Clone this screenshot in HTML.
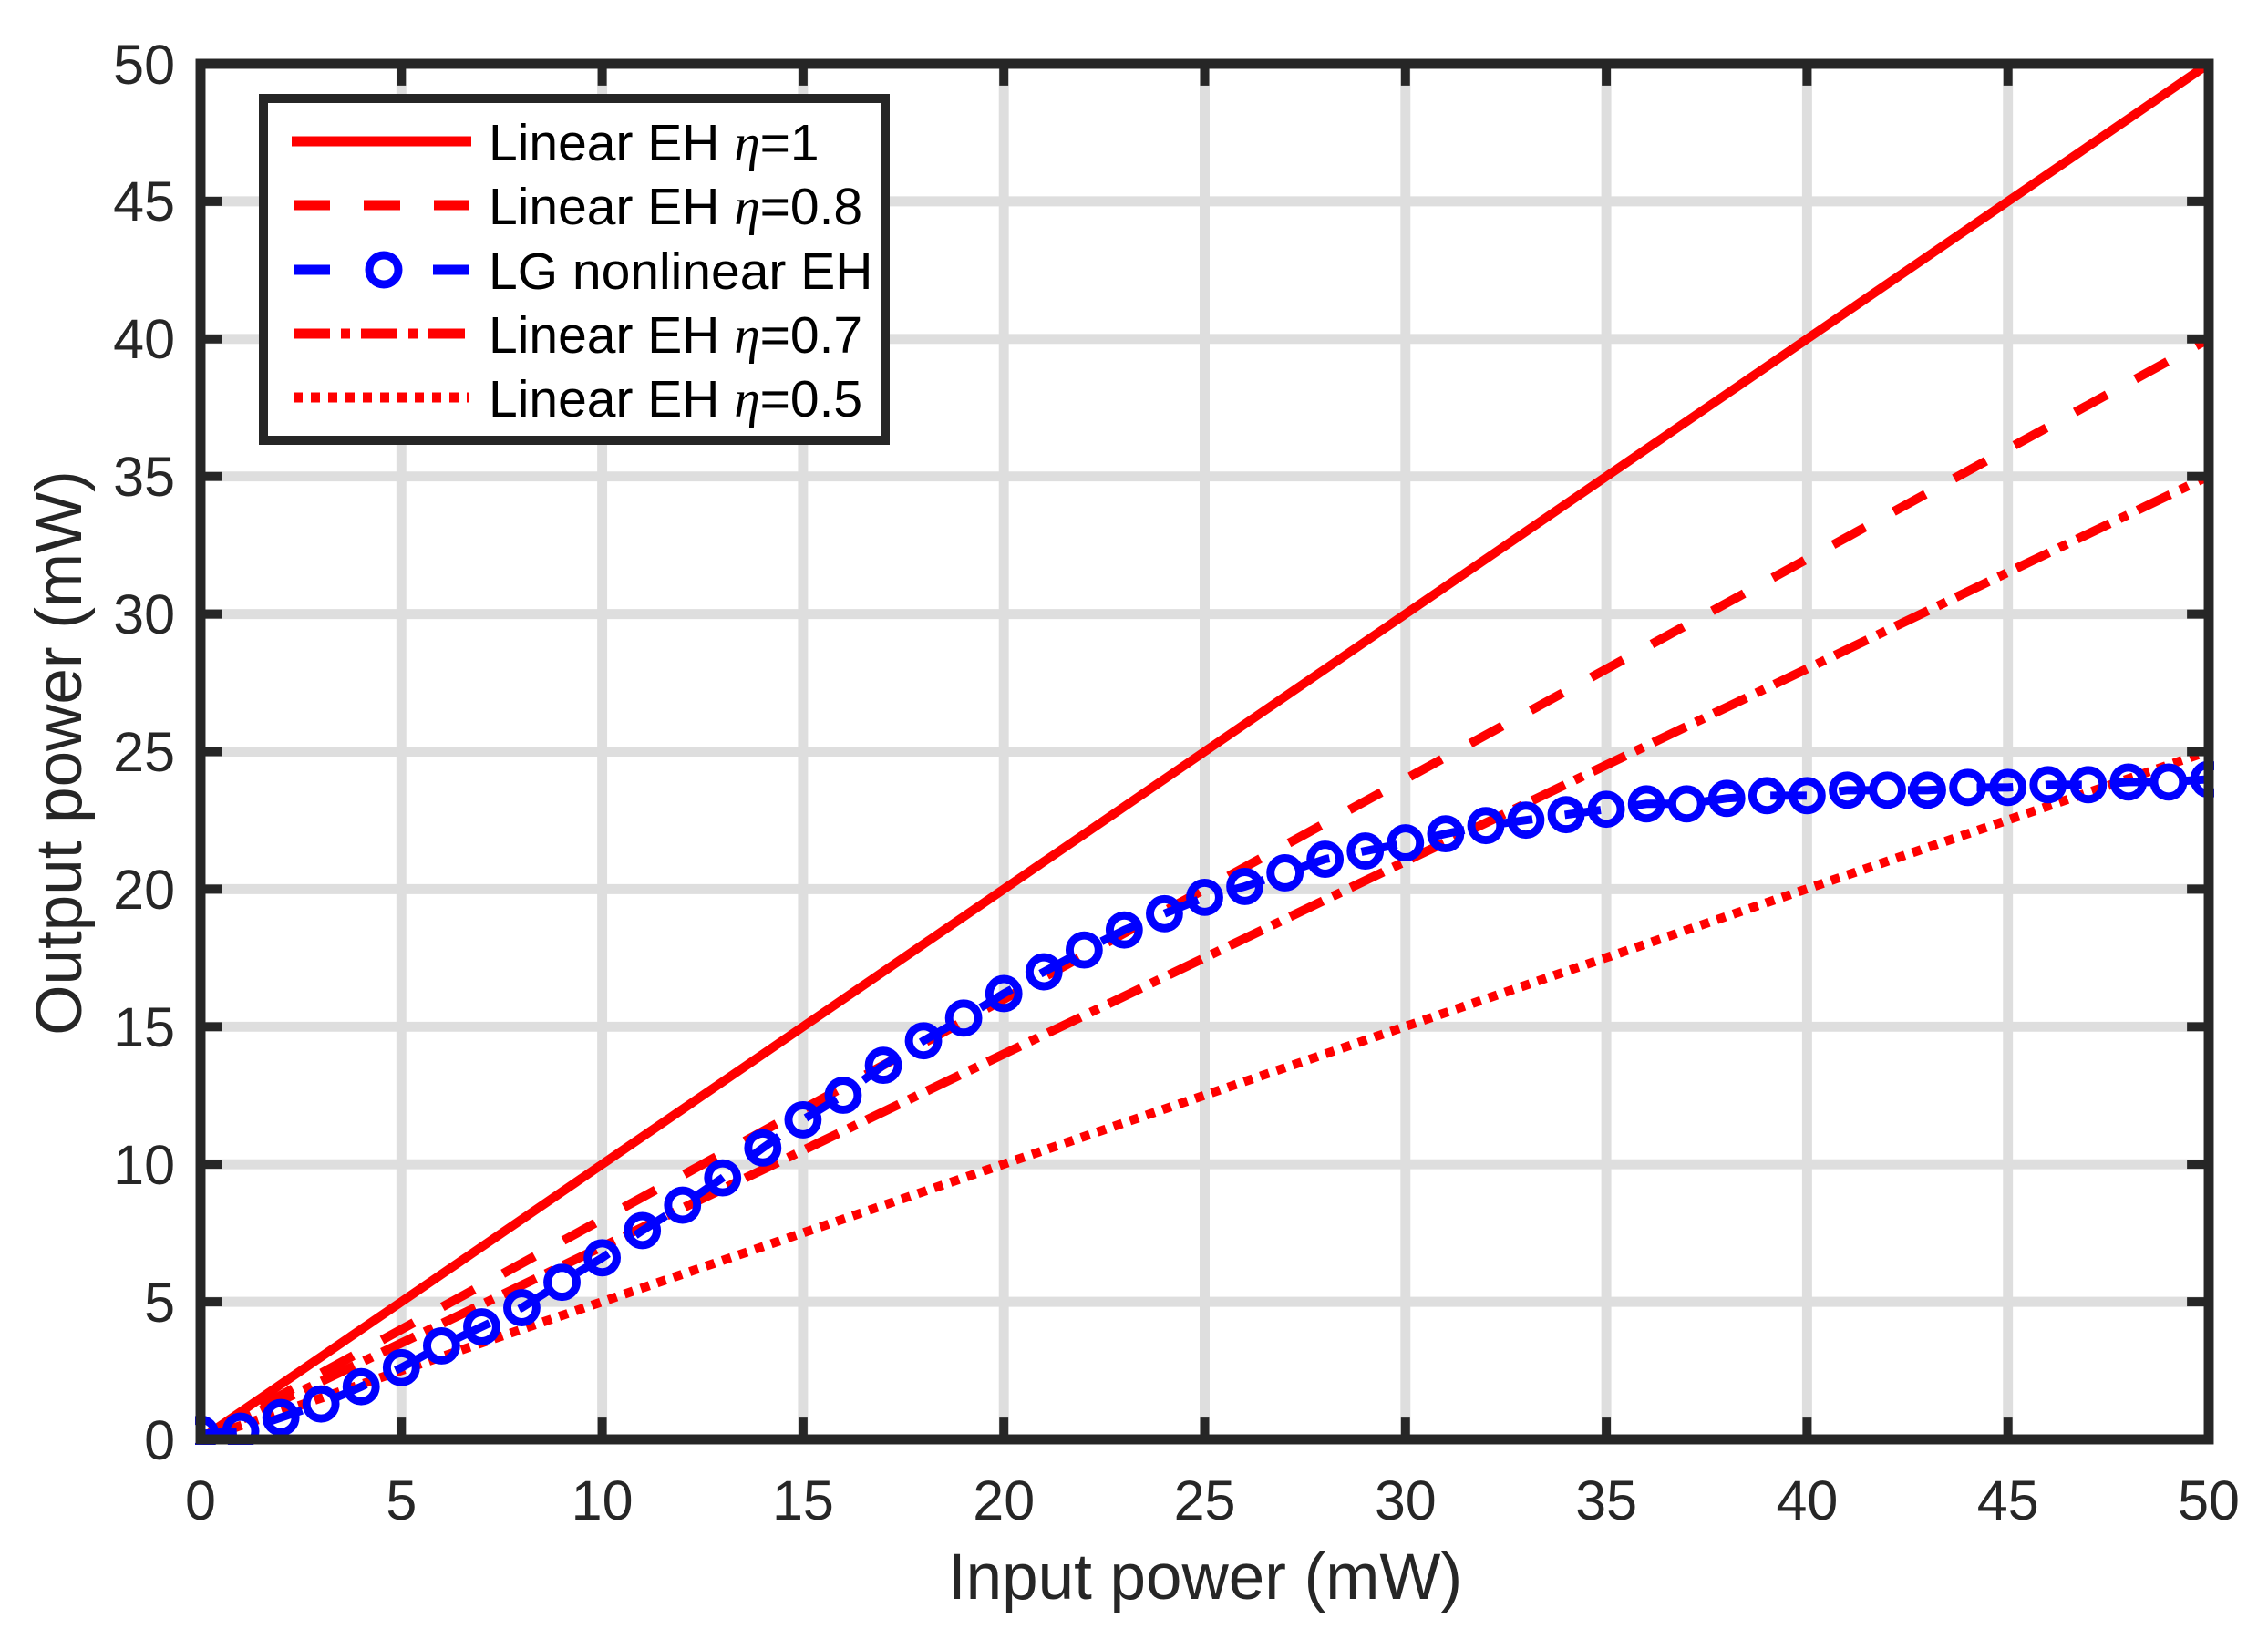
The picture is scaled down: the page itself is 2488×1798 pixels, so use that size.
<!DOCTYPE html>
<html><head><meta charset="utf-8"><style>
html,body{margin:0;padding:0;background:#fff;}
svg{display:block;}
text{font-family:"Liberation Sans",sans-serif;fill:#262626;}
</style></head><body>
<svg width="2488" height="1798" viewBox="0 0 2488 1798" xmlns="http://www.w3.org/2000/svg">
<defs>
<clipPath id="c"><rect x="214" y="64" width="2226" height="1527"/></clipPath>
<marker id="m" markerUnits="userSpaceOnUse" markerWidth="60" markerHeight="60" refX="30" refY="30" viewBox="0 0 60 60" overflow="visible">
<circle cx="30" cy="30" r="16" fill="none" stroke="#0000ff" stroke-width="9"/>
</marker>
</defs>
<rect width="2488" height="1798" fill="#fff"/>
<g transform="translate(220,70) scale(0.99503,0.99604) translate(-220,-70)">
<g stroke="#dedede" stroke-width="11">
<line x1="441.4" y1="70" x2="441.4" y2="1585"/><line x1="662.8" y1="70" x2="662.8" y2="1585"/><line x1="884.2" y1="70" x2="884.2" y2="1585"/><line x1="1105.6" y1="70" x2="1105.6" y2="1585"/><line x1="1327" y1="70" x2="1327" y2="1585"/><line x1="1548.4" y1="70" x2="1548.4" y2="1585"/><line x1="1769.8" y1="70" x2="1769.8" y2="1585"/><line x1="1991.2" y1="70" x2="1991.2" y2="1585"/><line x1="2212.6" y1="70" x2="2212.6" y2="1585"/>
<line x1="220" y1="1433.5" x2="2434" y2="1433.5"/><line x1="220" y1="1282" x2="2434" y2="1282"/><line x1="220" y1="1130.5" x2="2434" y2="1130.5"/><line x1="220" y1="979" x2="2434" y2="979"/><line x1="220" y1="827.5" x2="2434" y2="827.5"/><line x1="220" y1="676" x2="2434" y2="676"/><line x1="220" y1="524.5" x2="2434" y2="524.5"/><line x1="220" y1="373" x2="2434" y2="373"/><line x1="220" y1="221.5" x2="2434" y2="221.5"/>
</g>
<g clip-path="url(#c)" fill="none" stroke-width="10">
<line x1="220" y1="1585" x2="2434" y2="70" stroke="#ff0000"/>
<line x1="220" y1="1585" x2="2434" y2="373" stroke="#ff0000" stroke-dasharray="40 36"/>
<line x1="220" y1="1585" x2="2434" y2="524" stroke="#ff0000" stroke-dasharray="40 12 10 12"/>
<line x1="220" y1="1585" x2="2434" y2="827" stroke="#ff0000" stroke-dasharray="10 9"/>
<polyline stroke="#0000ff" stroke-width="9" stroke-dasharray="40 36" marker-start="url(#m)" marker-mid="url(#m)" marker-end="url(#m)" points="220,1579 264.3,1576 308.6,1561 352.8,1546 397.1,1527 441.4,1506 485.7,1482 530,1461 574.2,1440 618.5,1412 662.8,1385 707.1,1355 751.4,1327 795.6,1297 839.9,1264 884.2,1233 928.5,1206 972.8,1173 1017,1146 1061.3,1121 1105.6,1094 1149.9,1070 1194.2,1046 1238.4,1024 1282.7,1006 1327,988 1371.3,976 1415.6,961 1459.8,946 1504.1,937 1548.4,928 1592.7,918 1637,909 1681.2,903 1725.5,897 1769.8,891 1814.1,885 1858.4,885 1902.6,879 1946.9,876 1991.2,876 2035.5,870 2079.8,870 2124,870 2168.3,867 2212.6,867 2256.9,864 2301.2,864 2345.4,861 2389.7,861 2434,858"/>
</g>
<g stroke="#262626" stroke-width="10">
<line x1="441.4" y1="1585" x2="441.4" y2="1561"/><line x1="662.8" y1="1585" x2="662.8" y2="1561"/><line x1="884.2" y1="1585" x2="884.2" y2="1561"/><line x1="1105.6" y1="1585" x2="1105.6" y2="1561"/><line x1="1327" y1="1585" x2="1327" y2="1561"/><line x1="1548.4" y1="1585" x2="1548.4" y2="1561"/><line x1="1769.8" y1="1585" x2="1769.8" y2="1561"/><line x1="1991.2" y1="1585" x2="1991.2" y2="1561"/><line x1="2212.6" y1="1585" x2="2212.6" y2="1561"/>
<line x1="441.4" y1="70" x2="441.4" y2="94"/><line x1="662.8" y1="70" x2="662.8" y2="94"/><line x1="884.2" y1="70" x2="884.2" y2="94"/><line x1="1105.6" y1="70" x2="1105.6" y2="94"/><line x1="1327" y1="70" x2="1327" y2="94"/><line x1="1548.4" y1="70" x2="1548.4" y2="94"/><line x1="1769.8" y1="70" x2="1769.8" y2="94"/><line x1="1991.2" y1="70" x2="1991.2" y2="94"/><line x1="2212.6" y1="70" x2="2212.6" y2="94"/>
<line x1="220" y1="1433.5" x2="244" y2="1433.5"/><line x1="220" y1="1282" x2="244" y2="1282"/><line x1="220" y1="1130.5" x2="244" y2="1130.5"/><line x1="220" y1="979" x2="244" y2="979"/><line x1="220" y1="827.5" x2="244" y2="827.5"/><line x1="220" y1="676" x2="244" y2="676"/><line x1="220" y1="524.5" x2="244" y2="524.5"/><line x1="220" y1="373" x2="244" y2="373"/><line x1="220" y1="221.5" x2="244" y2="221.5"/>
<line x1="2434" y1="1433.5" x2="2410" y2="1433.5"/><line x1="2434" y1="1282" x2="2410" y2="1282"/><line x1="2434" y1="1130.5" x2="2410" y2="1130.5"/><line x1="2434" y1="979" x2="2410" y2="979"/><line x1="2434" y1="827.5" x2="2410" y2="827.5"/><line x1="2434" y1="676" x2="2410" y2="676"/><line x1="2434" y1="524.5" x2="2410" y2="524.5"/><line x1="2434" y1="373" x2="2410" y2="373"/><line x1="2434" y1="221.5" x2="2410" y2="221.5"/>
<rect x="220" y="70" width="2214" height="1515" fill="none" stroke-width="11"/>
</g>
</g>
<g font-size="61" text-anchor="end">
<text x="192" y="1601">0</text><text x="192" y="1450">5</text><text x="192" y="1299">10</text><text x="192" y="1148">15</text><text x="192" y="997">20</text><text x="192" y="846">25</text><text x="192" y="695">30</text><text x="192" y="544">35</text><text x="192" y="393">40</text><text x="192" y="242">45</text><text x="192" y="92">50</text>
</g>
<g font-size="61" text-anchor="middle">
<text x="220" y="1667">0</text><text x="440.3" y="1667">5</text><text x="660.6" y="1667">10</text><text x="880.9" y="1667">15</text><text x="1101.2" y="1667">20</text><text x="1321.5" y="1667">25</text><text x="1541.8" y="1667">30</text><text x="1762.1" y="1667">35</text><text x="1982.4" y="1667">40</text><text x="2202.7" y="1667">45</text><text x="2423" y="1667">50</text>
</g>
<text x="1322" y="1754" font-size="71" text-anchor="middle">Input power (mW)</text>
<text transform="translate(89,826) rotate(-90)" font-size="71" text-anchor="middle">Output power (mW)</text>
<rect x="289" y="108" width="682" height="375" fill="#fff" stroke="#262626" stroke-width="10"/>
<g stroke-width="11" fill="none">
<line x1="320" y1="155" x2="517" y2="155" stroke="#ff0000"/>
<line x1="322" y1="225" x2="515" y2="225" stroke="#ff0000" stroke-dasharray="40 37"/>
<line x1="322" y1="296" x2="515" y2="296" stroke="#0000ff" stroke-dasharray="40 113"/>
<circle cx="421" cy="296" r="16" stroke="#0000ff" stroke-width="9"/>
<line x1="322" y1="366" x2="515" y2="366" stroke="#ff0000" stroke-dasharray="40 12 10 12"/>
<line x1="322" y1="436" x2="515" y2="436" stroke="#ff0000" stroke-dasharray="10 9"/>
</g>
<g font-size="57">
<text x="536" y="176" style="fill:#000">Linear EH <tspan font-family="Liberation Serif" font-style="italic">η</tspan>=1</text>
<text x="536" y="246" style="fill:#000">Linear EH <tspan font-family="Liberation Serif" font-style="italic">η</tspan>=0.8</text>
<text x="536" y="317" style="fill:#000">LG nonlinear EH</text>
<text x="536" y="387" style="fill:#000">Linear EH <tspan font-family="Liberation Serif" font-style="italic">η</tspan>=0.7</text>
<text x="536" y="457" style="fill:#000">Linear EH <tspan font-family="Liberation Serif" font-style="italic">η</tspan>=0.5</text>
</g>
</svg>
</body></html>
